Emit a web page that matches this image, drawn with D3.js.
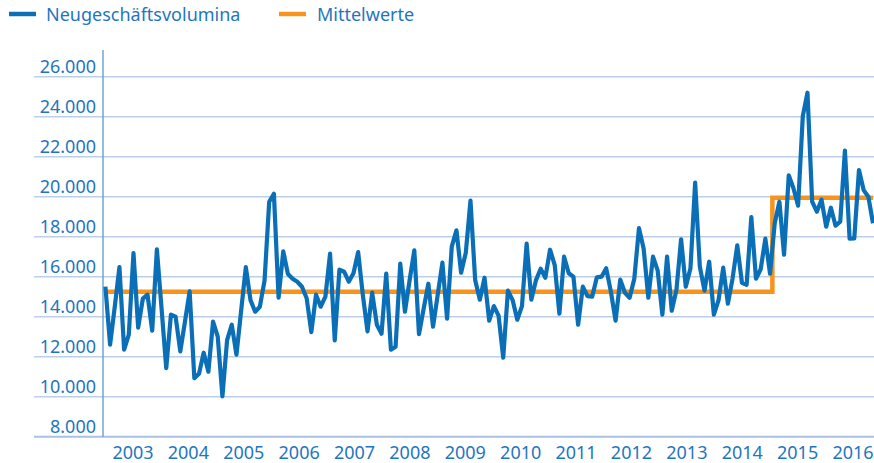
<!DOCTYPE html>
<html><head><meta charset="utf-8">
<script src="https://cdn.jsdelivr.net/npm/d3@7"></script>
<style>body{margin:0;background:#fff} svg{display:block}</style>
</head><body><svg id="c" width="874" height="463"></svg>
<script>
// monthly volumes
const volumes = [
  15500,12600,14500,16480,12350,13100,17180,13450,14900,15100,13300,17370,
  14400,11430,14100,14000,12270,13750,15270,10930,11150,12200,11250,13750,
  13000,10020,12830,13600,12100,14300,16480,14830,14250,14500,15800,19750,
  20150,14950,17270,16130,15900,15750,15500,14920,13230,15100,14500,15000,
  17150,12820,16350,16250,15750,16170,17230,15080,13270,15200,13600,13150,
  16150,12350,12500,16650,14250,15830,17320,13130,14400,15650,13500,15100,
  16700,13900,17500,18320,16200,17200,19800,15830,14850,15950,13800,14530,
  14050,11950,15300,14830,13850,14530,17650,14850,15830,16400,15950,17350,
  16580,14150,17000,16170,16000,13600,15500,15030,15000,15970,16000,16420,
  15250,13800,15850,15200,14950,15900,18430,17400,14950,17000,16300,14100,
  17000,14300,15330,17870,15500,16420,20700,16500,15300,16750,14100,14830,
  16450,14650,15920,17570,15700,15600,18980,15900,16370,17900,16150,18670,
  19750,17100,21070,20420,19550,24030,25200,19750,19250,19850,18500,19450,
  18550,18750,22300,17900,17920,21330,20330,20000,18670
];
const meanValues = [15250, 19950];
const meanStartIndex = [0, 143];
const yearLabels = ["2003","2004","2005","2006","2007","2008","2009","2010","2011","2012","2013","2014","2015","2016"];
const yTicks = [8000,10000,12000,14000,16000,18000,20000,22000,24000,26000];
const legendLabels = ["Neugeschäftsvolumina","Mittelwerte"];

const BLUE = "#0a6fb7", ORANGE = "#f7941d", TEXT = "#1f76bf", GRID = "#bccfe6", AXIS = "#5b97cf";
const FONT = "'Noto Sans', sans-serif";

const svg = d3.select("#c");
const x = d3.scaleLinear().domain([0, volumes.length - 1]).range([105.4, 873]);
const y = d3.scaleLinear().domain([8000, 26000]).range([436.7, 76.7]);
const xYear = d3.scalePoint().domain(yearLabels).range([133, 853]);
const fmt = v => d3.format(",")(v).replace(/,/g, ".");

// grid lines + labels
const g = svg.append("g");
g.selectAll("line.grid").data(yTicks).join("line")
  .attr("x1", 34).attr("x2", 874)
  .attr("y1", d => y(d)).attr("y2", d => y(d))
  .attr("stroke", d => d === 8000 ? "#a9c2e2" : GRID).attr("stroke-width", d => d === 8000 ? 2 : 1.6);
g.selectAll("text.tick").data(yTicks).join("text")
  .attr("x", 96).attr("y", d => y(d) - 4)
  .attr("text-anchor", "end").attr("fill", TEXT)
  .style("font-family", FONT).style("font-size", "18px")
  .text(fmt);

// y axis line
svg.append("line").attr("x1", 103).attr("x2", 103).attr("y1", 50).attr("y2", y(8000))
  .attr("stroke", AXIS).attr("stroke-width", 1.3);

// year labels
svg.selectAll("text.year").data(yearLabels).join("text")
  .attr("x", d => xYear(d)).attr("y", 459)
  .attr("text-anchor", "middle").attr("fill", TEXT)
  .style("font-family", FONT).style("font-size", "18px")
  .text(d => d);

// mean line (step)
const meanSeries = volumes.map((_, i) => {
  let k = 0;
  meanStartIndex.forEach((s, j) => { if (i >= s) k = j; });
  return meanValues[k];
});
const line = d3.line().x((d, i) => x(i)).y(d => y(d));
svg.append("path").datum(meanSeries)
  .attr("d", line.curve(d3.curveStep))
  .attr("fill", "none").attr("stroke", ORANGE).attr("stroke-width", 4.5);

svg.append("path").datum(volumes)
  .attr("d", d3.line().x((d, i) => x(i)).y(d => y(d)))
  .attr("fill", "none").attr("stroke", BLUE).attr("stroke-width", 4.2)
  .attr("stroke-linejoin", "round");

// legend
const legend = [
  {label: legendLabels[0], color: BLUE, x: 9, tx: 46},
  {label: legendLabels[1], color: ORANGE, x: 279, tx: 317}
];
const lg = svg.selectAll("g.lg").data(legend).join("g");
lg.append("line").attr("x1", d => d.x).attr("x2", d => d.x + 27)
  .attr("y1", 14).attr("y2", 14).attr("stroke", d => d.color).attr("stroke-width", 4.5);
lg.append("text").attr("x", d => d.tx).attr("y", 21).attr("fill", TEXT)
  .style("font-family", FONT).style("font-size", "18px").text(d => d.label);
</script></body></html>
